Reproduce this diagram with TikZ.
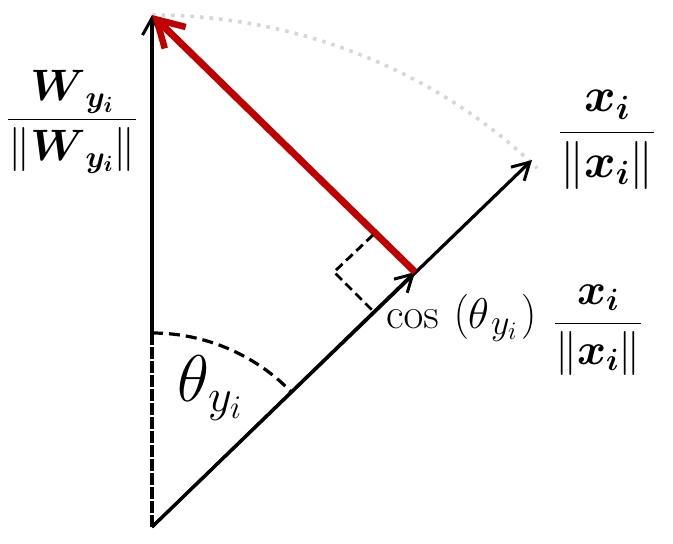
\RequirePackage{fix-cm}
\documentclass[tikz,border=0pt]{standalone}
\usepackage{amsmath}
\usetikzlibrary{arrows.meta}
\definecolor{vecred}{RGB}{192,0,0}
\definecolor{arcgray}{RGB}{215,215,215}
\newcommand{\bigsub}[1]{\mbox{\fontsize{36}{40}\selectfont$#1$}}
\begin{document}
\begin{tikzpicture}[x=1pt,y=-1pt,
  vec/.style={line width=3.2pt,-{Straight Barb[length=17pt,width=19pt,line width=3pt]}},
  redvec/.style={line width=7pt,color=vecred,-{Straight Barb[length=26pt,width=30pt,line width=6.5pt]}},
  helper/.style={line width=3.2pt,dash pattern=on 11pt off 6pt},
  lab/.style={inner sep=0pt,font=\fontsize{44}{52}\selectfont}]
\useasboundingbox (0,0) rectangle (673,544);
\coordinate (O) at (152,527);
\coordinate (W) at (152,15);
\coordinate (X) at (532,160);
\coordinate (P) at (415,272);
\coordinate (A1) at (152,333);
\coordinate (R1) at (373,235);
\coordinate (RC) at (334,272);
\coordinate (R2) at (373,311);
% dotted arc
\draw[arcgray,line width=3.6pt,dash pattern=on 3.6pt off 6pt] (W) arc[start angle=-90,end angle=-44.5,x radius=540,y radius=512];
% vectors
\draw[line width=3.2pt,dash pattern=on 12pt off 2pt] (O) -- (A1);
\draw[vec] (A1) -- (W);
\draw[vec] (O) -- (X);
\draw[vec] (O) -- (P);
\draw[redvec] (P) -- (W);
% right-angle mark
\draw[helper,line width=2.8pt,dash pattern=on 9pt off 5pt] (R1) -- (RC) -- (R2);
% angle arc
\draw[helper] (A1) arc[start angle=-90,end angle=-44.2,radius=194];
% labels
\node[lab] (wlab) at (72,122) {$\dfrac{\boldsymbol{W}_{\boldsymbol{y_i}}}{\left\|\boldsymbol{W}_{\boldsymbol{y_i}}\right\|}$};
\node[lab,font=\fontsize{48}{56}\selectfont] (xlab) at (607,140) {$\dfrac{\boldsymbol{x_i}}{\left\|\boldsymbol{x_i}\right\|}$};
\node[lab,anchor=base west,font=\fontsize{43}{50}\selectfont] (plab) at (386,328) {$\cos\mkern3mu\left(\theta_{\mkern2mu\bigsub{y_i}}\mkern2mu\right)$};
\node[lab] (pfrac) at (598,330) {$\dfrac{\boldsymbol{x_i}}{\left\|\boldsymbol{x_i}\right\|}$};
\node[lab,font=\fontsize{66}{72}\selectfont] (tlab) at (210,388) {$\theta_{y_i}$};
\end{tikzpicture}
\end{document}
